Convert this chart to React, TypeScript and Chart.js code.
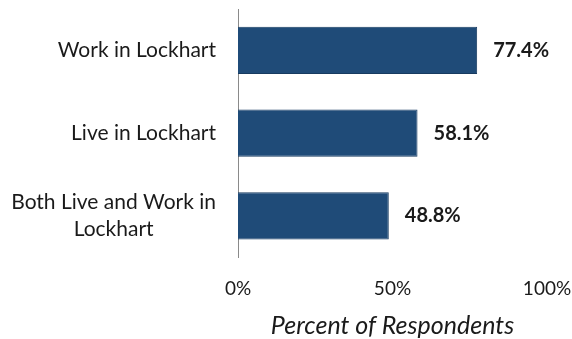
import React, { useEffect, useRef } from 'react';
import { Chart, registerables } from 'chart.js';

Chart.register(...registerables);

const categories: string[][] = [
  ['Work in Lockhart'],
  ['Live in Lockhart'],
  ['Both Live and Work in', 'Lockhart'],
];
const values: number[] = [77.4, 58.1, 48.8];
const xTickValues: number[] = [0, 50, 100];
const axisTitle = 'Percent of Respondents';

const FONT = 'Lato, "Noto Sans", sans-serif';
const TEXT = '#1a1a1a';

const labelPlugin = {
  id: 'customLabels',
  afterDraw(chart: any) {
    const ctx = chart.ctx;
    const y = chart.scales.y;
    const x = chart.scales.x;
    const area = chart.chartArea;
    ctx.save();
    // category labels
    ctx.font = `21px ${FONT}`;
    ctx.fillStyle = TEXT;
    ctx.textBaseline = 'middle';
    ctx.textAlign = 'center';
    const lineH = 27;
    categories.forEach((lines, i) => {
      const cy = y.getPixelForValue(i);
      const maxW = Math.max(...lines.map((l) => ctx.measureText(l).width));
      const right = area.left - 22;
      const cx = right - maxW / 2;
      const startY = cy - ((lines.length - 1) * lineH) / 2;
      lines.forEach((l, j) => ctx.fillText(l, cx, startY + j * lineH));
    });
    // value labels
    ctx.font = `bold 20px ${FONT}`;
    ctx.textAlign = 'left';
    values.forEach((v, i) => {
      const px = x.getPixelForValue(v);
      const cy = y.getPixelForValue(i);
      ctx.fillText(v.toFixed(1) + '%', px + 16, cy);
    });
    ctx.restore();
  },
};

export default function App() {
  const ref = useRef<HTMLCanvasElement | null>(null);
  useEffect(() => {
    if (!ref.current) return;
    const chart = new Chart(ref.current, {
      type: 'bar',
      data: {
        labels: categories.map((c) => c.join(' ')),
        datasets: [
          {
            data: values,
            backgroundColor: '#1f4b78',
            borderColor: '#173b60',
            borderWidth: 1,
            barPercentage: 0.57,
            categoryPercentage: 1,
          },
        ],
      },
      options: {
        indexAxis: 'y',
        responsive: false,
        animation: false,
        devicePixelRatio: 1,
        layout: { padding: { left: 238, right: 25, top: 9, bottom: 0 } },
        plugins: {
          legend: { display: false },
          tooltip: { enabled: false },
        },
        scales: {
          x: {
            min: 0,
            max: 100,
            afterBuildTicks: (scale: any) => {
              scale.ticks = xTickValues.map((v) => ({ value: v }));
            },
            afterFit: (scale: any) => {
              scale.paddingLeft = 0;
              scale.paddingRight = 0;
            },
            grid: { display: false, drawTicks: false },
            border: { display: false },
            ticks: {
              padding: 20,
              color: TEXT,
              font: { family: FONT, size: 19 },
              callback: (v: any) => v + '%',
              maxRotation: 0,
            },
            title: {
              display: true,
              text: axisTitle,
              color: TEXT,
              font: { family: FONT, size: 25, style: 'italic' },
              padding: { top: -9, bottom: -2 },
            },
          },
          y: {
            grid: { display: false, drawTicks: false },
            border: { display: true, color: '#8a8a8a', width: 1 },
            ticks: { display: false },
          },
        },
      },
      plugins: [labelPlugin],
    });
    return () => chart.destroy();
  }, []);
  return (
    <div style={{ position: 'absolute', left: 0, top: 0, width: 572, height: 339, background: '#fff' }}>
      <canvas ref={ref} width={572} height={339} />
    </div>
  );
}
